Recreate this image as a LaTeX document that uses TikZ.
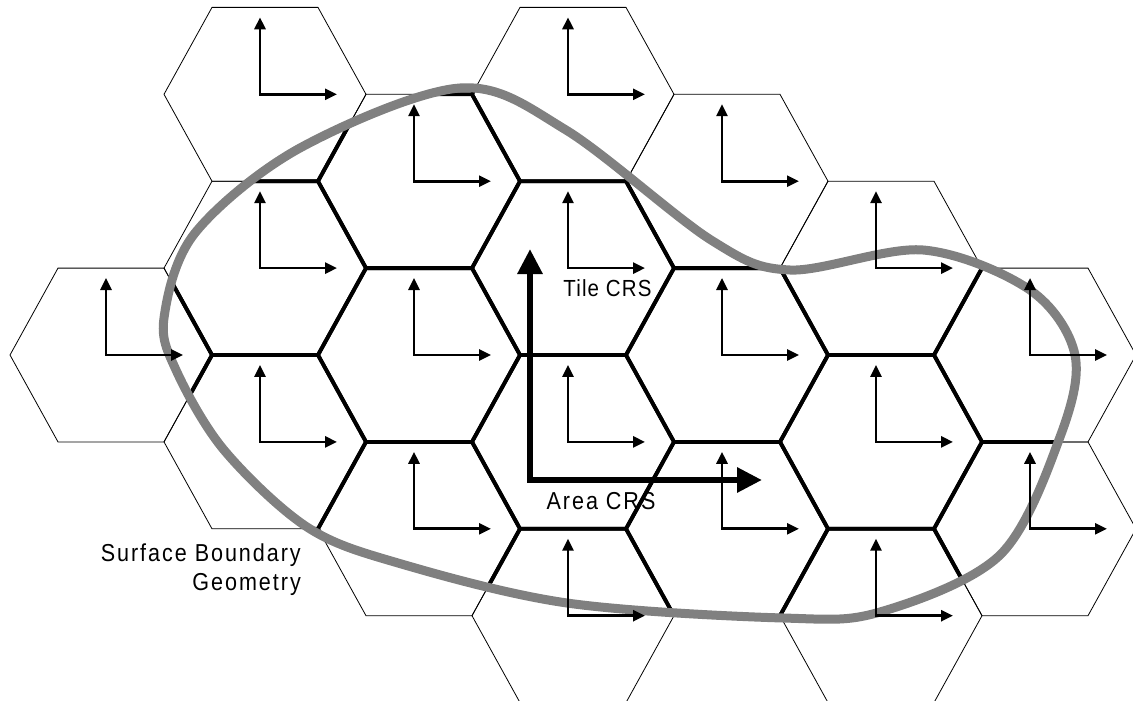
\documentclass[tikz,border=0pt]{standalone}
\usepackage{fontspec}
\setmainfont{Liberation Sans}
\newfontfamily\lblfont[FakeStretch=0.88,LetterSpace=8]{Liberation Sans}
\newfontfamily\tilefont[FakeStretch=0.88,LetterSpace=5]{Liberation Sans}
\usepackage{tikz}
\usetikzlibrary{arrows.meta}
\definecolor{boundgray}{HTML}{808080}
\tikzset{
  hexthin/.style={draw,line width=0.8pt},
  hexthick/.style={draw,line width=3.8pt},
  tileaxis/.style={{Triangle[length=12pt,width=11pt]}-{Triangle[length=12pt,width=11pt]},line width=2.7pt},
  areaaxis/.style={{Triangle[length=25pt,width=24pt]}-{Triangle[length=25pt,width=24pt]},line width=6pt},
  boundary/.style={draw=boundgray,line width=9pt},
  lbl/.style={inner sep=0pt,font=\lblfont\fontsize{24.5}{29}\selectfont},
}
% one hexagon cell, centred at the origin (pixel units)
\newcommand{\hexcell}{(-101,0) -- (-53,-86.9) -- (53,-86.9) -- (101,0) -- (53,86.9) -- (-53,86.9) -- cycle}
\newcommand{\surfacecurve}{plot[smooth cycle,tension=0.55] coordinates {
  (164,318) (195,233) (300,148) (460,88) (566,130) (711,240) (790,270)
  (923,250) (1030,290) (1075,355) (1060,437) (1000,555) (880,612) (783,618)
  (567,603) (398,563) (307,527) (224,450) (176,370)}}
\def\hexlist{0/0,1/-3,1/-1,1/1,2/-2,2/0,2/2,3/-3,3/-1,3/1,3/3,4/-2,4/0,4/2,5/-1,5/1,5/3,6/0,6/2}

\begin{document}
\begin{tikzpicture}[x=1pt,y=-1pt]
\useasboundingbox (0,0) rectangle (1133,701);

% tiles
\foreach \c/\r in \hexlist {
  \pgfmathsetmacro{\hx}{111+154*\c}
  \pgfmathsetmacro{\hy}{355+86.9*\r}
  \draw[hexthin,shift={(\hx,\hy)}] \hexcell;
}
\begin{scope}
  \clip \surfacecurve;
  \foreach \c/\r in \hexlist {
    \pgfmathsetmacro{\hx}{111+154*\c}
    \pgfmathsetmacro{\hy}{355+86.9*\r}
    \draw[hexthick,shift={(\hx,\hy)}] \hexcell;
  }
\end{scope}

% surface boundary
\draw[boundary] \surfacecurve;

% tile CRS axes
\foreach \c/\r in \hexlist {
  \pgfmathsetmacro{\hx}{111+154*\c}
  \pgfmathsetmacro{\hy}{355+86.9*\r}
  \draw[tileaxis,shift={(\hx,\hy)}] (-5,-77) -- (-5,0) -- (72,0);
}

% area CRS
\coordinate (areaO) at (530,480);
\coordinate (areaN) at (530,249);
\coordinate (areaE) at (762,480);
\draw[areaaxis] (areaN) -- (areaO) -- (areaE);

\node[lbl,font=\tilefont\fontsize{23.3}{28}\selectfont,anchor=base] (tile) at (607.5,296) {Tile CRS};
\node[lbl,anchor=base] (area) at (601,509.3) {Area CRS};
\node[lbl,anchor=north east,align=right] (surf) at (301,544) {Surface Boundary\\Geometry};
\end{tikzpicture}
\end{document}
